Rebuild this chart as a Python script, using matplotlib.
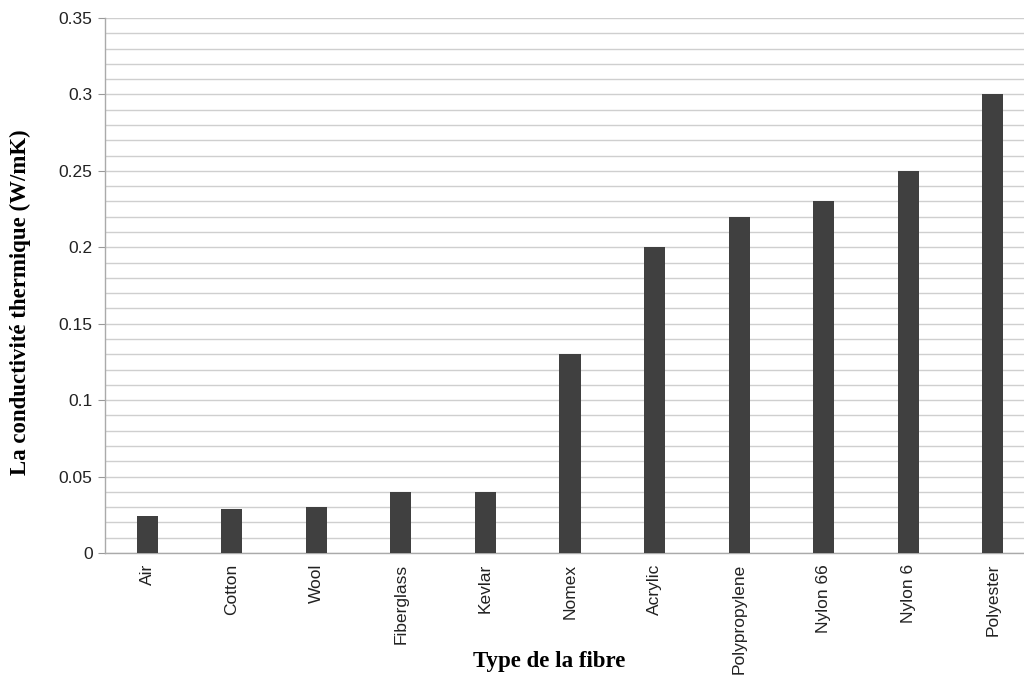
import matplotlib
matplotlib.use("Agg")
import matplotlib.pyplot as plt
import numpy as np
from matplotlib.ticker import MultipleLocator

categories = ["Air", "Cotton", "Wool", "Fiberglass", "Kevlar", "Nomex", "Acrylic",
              "Polypropylene", "Nylon 66", "Nylon 6", "Polyester"]
values = [0.024, 0.029, 0.030, 0.040, 0.040, 0.130, 0.200, 0.220, 0.230, 0.250, 0.300]
yticks = [0, 0.05, 0.1, 0.15, 0.2, 0.25, 0.3, 0.35]
ytick_labels = ["0", "0.05", "0.1", "0.15", "0.2", "0.25", "0.3", "0.35"]

fig = plt.figure(figsize=(10.24, 6.79), dpi=100)
ax = fig.add_axes([105/1024, (679-553)/679, 930/1024, 535/679])

x = np.arange(len(categories))
ax.bar(x, values, width=0.25, color="#404040", zorder=3)

ax.set_xlim(-0.5, len(categories) - 0.5)
ax.set_ylim(0, 0.35)
ax.set_yticks(yticks)
ax.set_yticklabels(ytick_labels, fontsize=12.5, family="Liberation Sans", color="#222222")
ax.yaxis.set_minor_locator(MultipleLocator(0.01))
ax.grid(axis="y", which="both", color="#cfcfcf", linewidth=1.0, zorder=0)
ax.tick_params(axis="y", which="major", length=5, color="#999999", pad=4)
ax.tick_params(axis="y", which="minor", length=0)
ax.set_xticks(x)
ax.set_xticklabels(categories, rotation=90, fontsize=12.5, family="Liberation Sans", color="#222222")
ax.tick_params(axis="x", length=0, pad=8)

for s in ["top", "right"]:
    ax.spines[s].set_visible(False)
for s in ["left", "bottom"]:
    ax.spines[s].set_color("#aaaaaa")
    ax.spines[s].set_linewidth(1.0)

fig.text(20/1024, 1 - 302/679, "La conductivité thermique (W/mK)", rotation=90,
         ha="center", va="center", fontsize=16.5, fontweight="bold", family="Liberation Serif")
fig.text(549/1024, 1 - 661/679, "Type de la fibre", ha="center", va="center",
         fontsize=16.5, fontweight="bold", family="Liberation Serif")

fig.savefig("out.png", dpi=100)
